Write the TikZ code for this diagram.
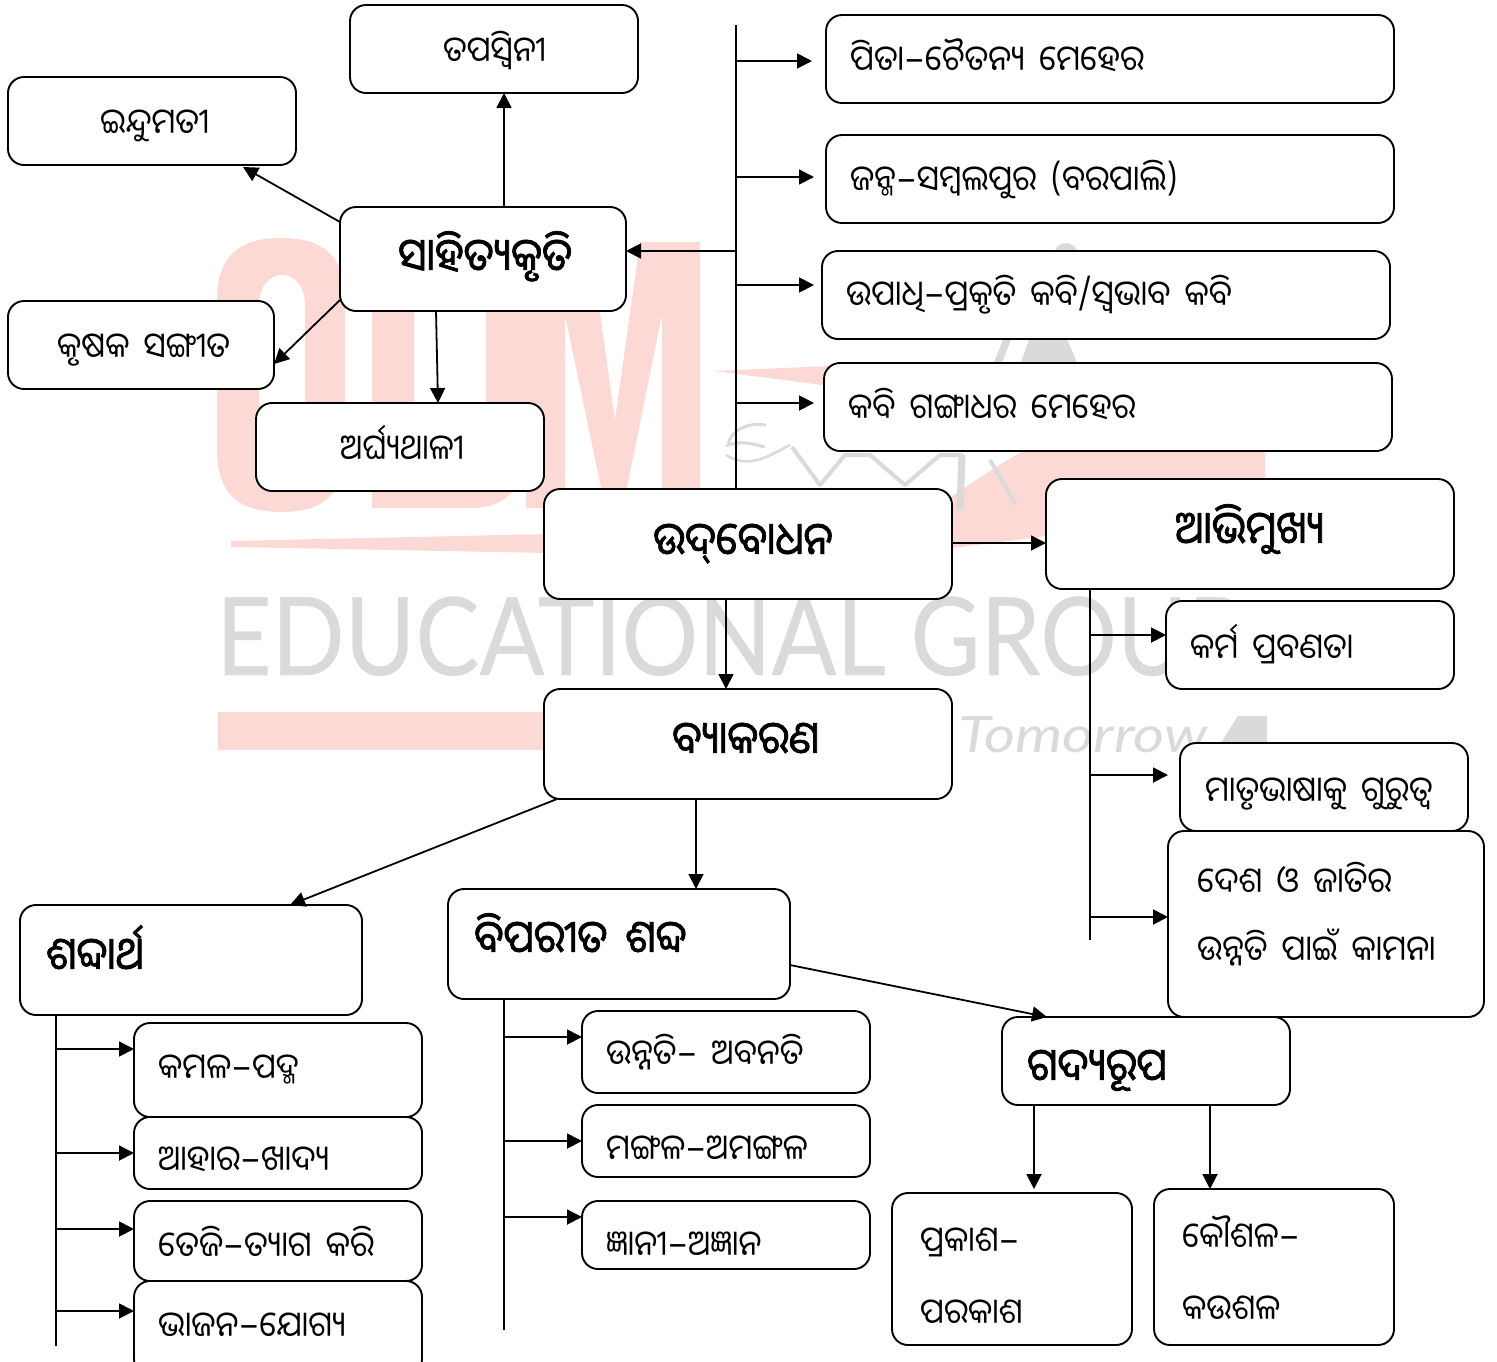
\documentclass[tikz,border=0pt]{standalone}
\usepackage{fontspec}
\usetikzlibrary{arrows.meta}
\newfontfamily\ory[Script=Oriya,FakeStretch=0.92,WordSpace=1.7]{Noto Sans Oriya UI}
\newfontfamily\orb[Script=Oriya,FakeStretch=0.91,FakeBold=1.6,WordSpace=1.7]{Noto Sans Oriya UI}
\newfontfamily\hyf{Liberation Sans}
\newfontfamily\wmf[FakeBold=0.25]{Lato}
\newfontfamily\wmi[ItalicFont=*-Italic]{Lato}
\newcommand{\hy}{{\hyf\fontsize{50}{50}\selectfont\raisebox{4pt}{\scalebox{1.25}[0.65]{-}}}}
\definecolor{wred}{HTML}{FDD9D6}
\definecolor{wgrey}{HTML}{DADADA}
\tikzset{
  bxs/.style={draw=black,line width=1.9pt,fill=white,rounded corners=16pt,inner sep=0pt,outer sep=0pt},
  lab/.style={anchor=base west,inner sep=0pt,font=\ory\fontsize{35}{35}\selectfont},
  blab/.style={anchor=base west,inner sep=0pt,font=\orb\fontsize{45}{45}\selectfont},
  arr/.style={line width=1.8pt,-{Triangle[length=15pt,width=15pt]}},
  trunk/.style={line width=1.8pt}
}
\newcommand{\bx}[5]{%
  \pgfmathsetmacro{\bxw}{#4-#2}\pgfmathsetmacro{\bxh}{#5-#3}%
  \node[bxs,minimum width=\bxw pt,minimum height=\bxh pt] (#1) at ({(#2+#4)/2},{(#3+#5)/2}) {};}
\begin{document}
\begin{tikzpicture}[x=1pt,y=-1pt]
\path[use as bounding box] (0,0) rectangle (1497,1361);
\clip (0,0) rectangle (1497,1361);
\fill[white] (0,0) rectangle (1497,1361);
% watermark
\begin{scope}[even odd rule]
\fill[wred] (217,300) .. controls (217,255) and (240,238) .. (281,238) .. controls (322,238) and (345,255) .. (345,300) -- (345,450) .. controls (345,495) and (322,512) .. (281,512) .. controls (240,512) and (217,495) .. (217,450) -- cycle
 (259,305) .. controls (259,265) and (305,265) .. (305,305) -- (305,445) .. controls (305,483) and (259,483) .. (259,445) -- cycle;
\fill[wred] (372,240) -- (470,240) .. controls (510,240) and (526,265) .. (526,310) -- (526,440) .. controls (526,485) and (510,508) .. (470,508) -- (372,508) -- cycle
 (414,280) -- (460,280) .. controls (478,280) and (486,290) .. (486,315) -- (486,440) .. controls (486,460) and (478,470) .. (460,470) -- (414,470) -- cycle;
\end{scope}
\fill[wred] (526,508) -- (526,242) -- (590,242) -- (615,420) -- (640,242) -- (700,242) -- (700,508) -- (662,508) -- (662,315) -- (625,497) -- (603,497) -- (565,315) -- (565,508) -- cycle;
\fill[wred] (714,371) -- (830,366) -- (830,386) -- cycle;
\fill[wred] (1023,451) -- (1265,451) -- (1265,500) .. controls (1170,520) and (1050,537) .. (850,560) .. controls (920,520) and (980,475) .. (1023,451) -- cycle;
\fill[wred] (231,541) -- (550,534) -- (550,553) -- (231,547) -- cycle;
\fill[wred] (218,712) rectangle (560,750);
\fill[wgrey] (1066,255) circle (12);
\fill[wgrey] (1020,365) -- (1030,337) -- (1066,337) -- (1078,365) -- cycle;
\fill[wgrey] (993,365) -- (1004,337) -- (1012,337) -- (1001,365) -- cycle;
\draw[wgrey,line width=3pt] (766,425) .. controls (745,422) and (730,432) .. (728,445) .. controls (745,440) and (755,445) .. (765,447);
\draw[wgrey,line width=2.5pt] (726,455) .. controls (750,470) and (770,455) .. (790,445);
\draw[wgrey,line width=4pt,line join=round] (792,447) -- (820,485) -- (845,455) -- (870,455) -- (905,485) -- (940,455) -- (962,455) -- (960,510);
\draw[wgrey,line width=7pt] (962,455) -- (960,510);
\draw[wgrey,line width=4pt] (990,460) -- (1016,505);
\node[anchor=base west,inner sep=0pt,text=wgrey,font=\wmf\fontsize{96}{96}\selectfont] (wmtext) at (216,675) {\scalebox{1}[1.13]{EDUCATIONAL GROUP}};
\node[anchor=base west,inner sep=0pt,text=wgrey,font=\wmi\itshape\fontsize{50}{50}\selectfont] (wmtom) at (958,752) {\scalebox{1.2}[1]{Tomorrow}};
\fill[wgrey] (1215,752) -- (1238,716) -- (1267,716) -- (1267,752) -- cycle;
% boxes
\bx{tap}{350}{5}{638}{93}
\bx{indu}{8}{77}{296}{165}
\bx{sah}{340}{207}{626}{311}
\bx{krus}{8}{301}{274}{389}
\bx{argh}{256}{403}{544}{491}
\bx{pita}{826}{15}{1394}{103}
\bx{janm}{826}{135}{1394}{223}
\bx{upa}{822}{251}{1390}{339}
\bx{kabi}{824}{363}{1392}{451}
\bx{udb}{544}{489}{952}{599}
\bx{abh}{1046}{479}{1454}{589}
\bx{karma}{1166}{601}{1454}{689}
\bx{matru}{1180}{743}{1468}{831}
\bx{desh}{1168}{831}{1484}{1017}
\bx{byak}{544}{689}{952}{799}
\bx{shab}{20}{905}{362}{1015}
\bx{bipa}{448}{889}{790}{999}
\bx{gady}{1002}{1017}{1290}{1105}
\bx{kam}{134}{1023}{422}{1117}
\bx{ahar}{134}{1117}{422}{1189}
\bx{teji}{134}{1201}{422}{1281}
\bx{bhaj}{134}{1281}{422}{1375}
\bx{unn}{582}{1011}{870}{1093}
\bx{mang}{582}{1105}{870}{1177}
\bx{jna}{582}{1201}{870}{1269}
\bx{prak}{892}{1193}{1132}{1345}
\bx{kau}{1154}{1189}{1394}{1345}
% labels
\node[lab] (ltap) at (443,64) {ତପସ୍ୱିନୀ};
\node[lab] (lindu) at (100,136) {ଇନ୍ଦୁମତୀ};
\node[blab] (lsah) at (398,274) {ସାହିତ୍ୟକୃତି};
\node[lab] (lkrus) at (57,360) {କୃଷକ ସଙ୍ଗୀତ};
\node[lab] (largh) at (340,462) {ଅର୍ଘ୍ୟଥାଳୀ};
\node[lab] (lpita) at (850,73) {ପିତା\hy ଚୈତନ୍ୟ ମେହେର};
\node[lab] (ljanm) at (850,193) {ଜନ୍ମ\hy ସମ୍ବଲପୁର (ବରପାଲି)};
\node[lab] (lupa) at (846,308) {ଉପାଧି\hy ପ୍ରକୃତି କବି/ସ୍ୱଭାବ କବି};
\node[lab] (lkabi) at (848,421) {କବି ଗଙ୍ଗାଧର ମେହେର};
\node[blab] (ludb) at (653,558) {ଉଦ୍‌ବୋଧନ};
\node[blab] (labh) at (1175,547) {ଆଭିମୁଖ୍ୟ};
\node[lab] (lkarma) at (1190,661) {କର୍ମ ପ୍ରବଣତା};
\node[lab] (lmatru) at (1205,804) {ମାତୃଭାଷାକୁ ଗୁରୁତ୍ୱ};
\node[lab] (ldesha) at (1197,895) {ଦେଶ ଓ ଜାତିର};
\node[lab] (ldeshb) at (1197,963) {ଉନ୍ନତି ପାଇଁ କାମନା};
\node[blab] (lbyak) at (672,757) {ବ୍ୟାକରଣ};
\node[blab] (lshab) at (46,973) {ଶବ୍ଦାର୍ଥ};
\node[blab] (lbipa) at (474,956) {ବିପରୀତ ଶବ୍ଦ};
\node[blab] (lgady) at (1027,1084) {ଗଦ୍ୟରୂପ};
\node[lab] (lkam) at (158,1081) {କମଳ\hy ପଦ୍ମ};
\node[lab] (lahar) at (158,1173) {ଆହାର\hy ଖାଦ୍ୟ};
\node[lab] (lteji) at (158,1259) {ତେଜି\hy ତ୍ୟାଗ କରି};
\node[lab] (lbhaj) at (158,1339) {ଭାଜନ\hy ଯୋଗ୍ୟ};
\node[lab] (lunn) at (606,1067) {ଉନ୍ନତି\hy{} ଅବନତି};
\node[lab] (lmang) at (606,1162) {ମଙ୍ଗଳ\hy ଅମଙ୍ଗଳ};
\node[lab] (ljna) at (606,1258) {ଜ୍ଞାନୀ\hy ଅଜ୍ଞାନ};
\node[lab] (lpraka) at (920,1254) {ପ୍ରକାଶ\hy};
\node[lab] (lprakb) at (920,1326) {ପରକାଶ};
\node[lab] (lkaua) at (1182,1250) {କୌଶଳ\hy};
\node[lab] (lkaub) at (1182,1322) {କଉଶଳ};
% connectors
\draw[arr] ([xshift=164pt]sah.north west) -- ([xshift=154pt]tap.south west);
\draw[arr] ([yshift=-15pt]sah.north west) -- ([xshift=-53pt,yshift=-2pt]indu.south east);
\draw[arr] ([yshift=11pt]sah.south west) -- ([yshift=-63pt]krus.north east);
\draw[arr] ([xshift=96pt]sah.south west) -- ([xshift=182pt]argh.north west);
\coordinate (ta) at (736,25);
\coordinate (tb) at (736,61);
\coordinate (tc) at (736,177);
\coordinate (td) at (736,285);
\coordinate (te) at (736,403);
\coordinate (tf) at (736,251);
\draw[trunk] (ta) -- (ta |- udb.north);
\draw[arr,shorten >=14pt] (tb) -- (tb -| pita.west);
\draw[arr,shorten >=12pt] (tc) -- (tc -| janm.west);
\draw[arr,shorten >=8pt] (td) -- (td -| upa.west);
\draw[arr,shorten >=10pt] (te) -- (te -| kabi.west);
\draw[arr] (tf) -- (tf -| sah.east);
\draw[arr] (udb.east |- 0,543) -- (abh.west |- 0,543);
\draw[arr] (726,599) -- (726,689);
\draw[arr] ([xshift=13pt]byak.south west) -- ([xshift=270pt]shab.north west);
\draw[arr] ([xshift=152pt]byak.south west) -- ([xshift=248pt]bipa.north west);
\draw[arr] ([yshift=-76pt]bipa.north east) -- ([xshift=45pt]gady.north west);
\draw[arr] ([xshift=32pt]gady.south west) -- ([xshift=142pt,yshift=4pt]prak.north west);
\draw[arr] ([xshift=208pt]gady.south west) -- ([xshift=56pt]kau.north west);
\coordinate (ra) at (1090,940);
\coordinate (rb) at (1090,635);
\coordinate (rc) at (1090,775);
\coordinate (rd) at (1090,917);
\draw[trunk] (ra |- abh.south) -- (ra);
\draw[arr] (rb) -- (rb -| karma.west);
\draw[arr,shorten >=12pt] (rc) -- (rc -| matru.west);
\draw[arr] (rd) -- (rd -| desh.west);
\coordinate (la) at (56,1346);
\coordinate (lb) at (56,1049);
\coordinate (lc) at (56,1153);
\coordinate (ld) at (56,1229);
\coordinate (le) at (56,1311);
\draw[trunk] (la |- shab.south) -- (la);
\draw[arr] (lb) -- (lb -| kam.west);
\draw[arr] (lc) -- (lc -| ahar.west);
\draw[arr] (ld) -- (ld -| teji.west);
\draw[arr] (le) -- (le -| bhaj.west);
\coordinate (ma) at (504,1330);
\coordinate (mb) at (504,1037);
\coordinate (mc) at (504,1141);
\coordinate (md) at (504,1217);
\draw[trunk] (ma |- bipa.south) -- (ma);
\draw[arr] (mb) -- (mb -| unn.west);
\draw[arr] (mc) -- (mc -| mang.west);
\draw[arr] (md) -- (md -| jna.west);
\end{tikzpicture}
\end{document}
